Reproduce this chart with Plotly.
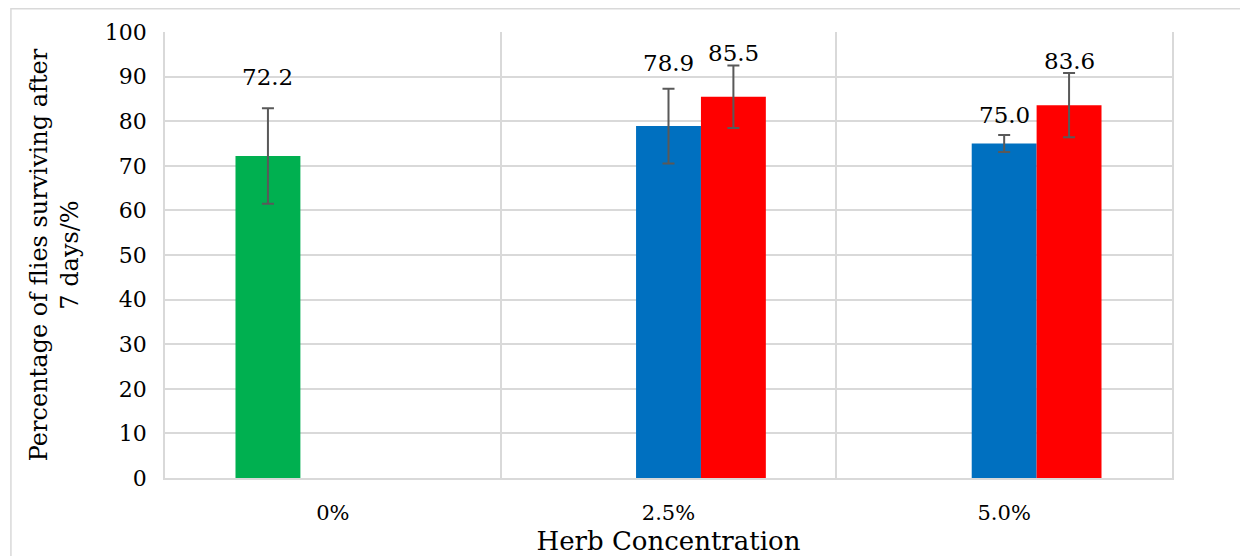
import plotly.graph_objects as go

categories = ["0%", "2.5%", "5.0%"]

control_x = ["0%"]
control_y = [72.2]
control_err = [10.7]

blue_x = ["2.5%", "5.0%"]
blue_y = [78.9, 75.0]
blue_err = [8.4, 1.9]

red_x = ["2.5%", "5.0%"]
red_y = [85.5, 83.6]
red_err = [7.0, 7.2]

y_ticks = list(range(0, 101, 10))

FONT = "DejaVu Serif"
GRID = "#d9d9d9"
ERR = "#595959"
BARGAP = 0.42

series = [
    (control_x, control_y, control_err, "#00B050", 0, [31]),
    (blue_x, blue_y, blue_err, "#0070C0", 1, [26, 20]),
    (red_x, red_y, red_err, "#FF0000", 2, [12, 12]),
]

fig = go.Figure()
barw = (1 - BARGAP) / 3
annotations = []
for xs, ys, es, col, slot, shifts in series:
    fig.add_trace(go.Bar(
        x=xs, y=ys, marker=dict(color=col, line=dict(width=0)),
        error_y=dict(type="data", array=es, visible=True, color=ERR, thickness=2, width=6),
        showlegend=False,
    ))
    for x, y, e, s in zip(xs, ys, es, shifts):
        annotations.append(dict(
            x=categories.index(x) + (slot - 1) * barw, y=y + e, xref="x", yref="y",
            text=f"{y:.1f}", showarrow=False, yanchor="middle", yshift=s,
            font=dict(family=FONT, size=23, color="#000000"),
        ))

fig.update_layout(
    width=1240, height=548,
    margin=dict(l=157, r=76, t=24, b=78),
    paper_bgcolor="white", plot_bgcolor="white",
    barmode="group", bargap=BARGAP, bargroupgap=0,
    annotations=annotations,
    font=dict(family=FONT, color="#000000"),
    shapes=[dict(type="rect", xref="paper", yref="paper",
                 x0=-0.153, x1=1.08, y0=-0.2, y1=1.052,
                 line=dict(color=GRID, width=1.5), layer="below")],
)
fig.update_xaxes(
    type="category", categoryorder="array", categoryarray=categories,
    tickson="boundaries", showgrid=True, gridcolor=GRID, gridwidth=1.5,
    showline=True, linecolor=GRID, linewidth=1.5, ticks="",
    ticklabelstandoff=15, automargin=False,
    tickfont=dict(family=FONT, size=21, color="#000000"),
    title=dict(text="Herb Concentration", font=dict(family=FONT, size=26, color="#000000"), standoff=13),
)
fig.update_yaxes(
    range=[0, 100], tickvals=y_ticks, showgrid=True, gridcolor=GRID, gridwidth=1.5,
    zeroline=False, showline=True, mirror=True, linecolor=GRID, linewidth=1.5,
    ticks="", ticklabelstandoff=12, automargin=False,
    tickfont=dict(family=FONT, size=22, color="#000000"),
    title=dict(text="Percentage of flies surviving after<br>7 days/%",
               font=dict(family=FONT, size=24, color="#000000"), standoff=19),
)

fig.write_html("out.html")
